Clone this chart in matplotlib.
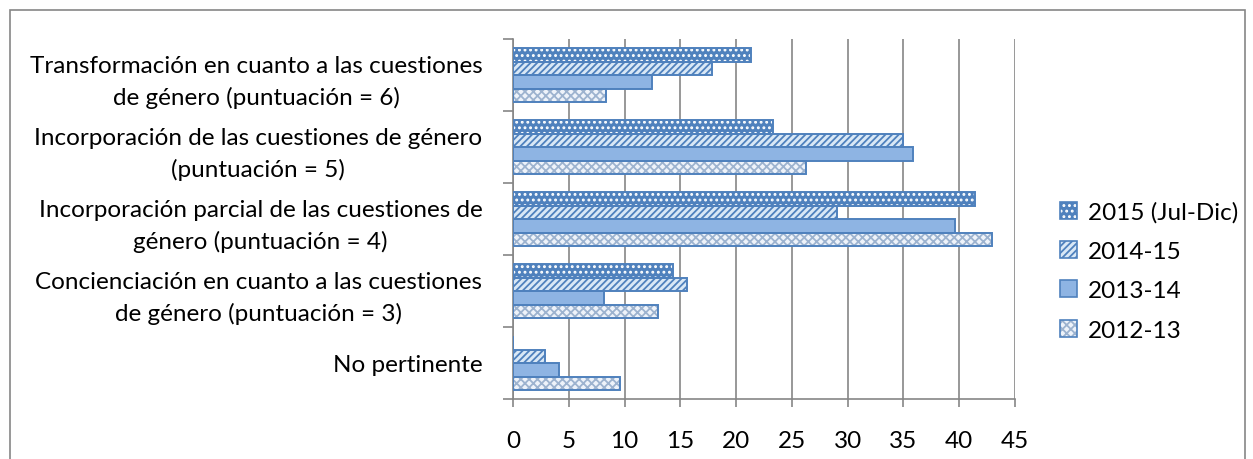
import numpy as np
import matplotlib.pyplot as plt
from matplotlib.patches import Patch, Rectangle
from matplotlib.legend_handler import HandlerTuple

# Data, bottom category first
categories = ["No pertinente",
              "Concienciación en cuanto a las cuestiones\nde género (puntuación = 3)",
              "Incorporación parcial de las cuestiones de\ngénero (puntuación = 4)",
              "Incorporación de las cuestiones de género\n(puntuación = 5)",
              "Transformación en cuanto a las cuestiones\nde género (puntuación = 6)"]
v_2012_13 = [9.6, 13.0, 42.9, 26.3, 8.3]
v_2013_14 = [4.1, 8.2, 39.6, 35.9, 12.5]
v_2014_15 = [2.9, 15.6, 29.0, 35.0, 17.8]
v_2015 = [0.0, 14.3, 41.4, 23.3, 21.3]
series_names = ["2012-13", "2013-14", "2014-15", "2015 (Jul-Dic)"]

blue = "#4F81BD"
grid_gray = "#868686"
styles = [
    dict(face="#EEF3FA", hcol="#9DB3CF", hatch="xxxx"),
    dict(face="#8EB4E3", hcol="#8EB4E3", hatch=None),
    dict(face="#D9E8F6", hcol=blue, hatch="/////"),
    dict(face=blue, hcol="white", hatch="..."),
]

plt.rcParams['font.family'] = ['Lato', 'DejaVu Sans']
plt.rcParams['hatch.linewidth'] = 1.3
fs = 17.5

fig = plt.figure(figsize=(12.53, 4.6), dpi=100)
ax = fig.add_axes([513 / 1253, 1 - 400 / 460, 502 / 1253, 360 / 460])

y = np.arange(len(categories))
h = 0.1875
offsets = [-1.5 * h, -0.5 * h, 0.5 * h, 1.5 * h]
handles = []
for vals, off, st in zip([v_2012_13, v_2013_14, v_2014_15, v_2015], offsets, styles):
    ax.barh(y + off, vals, height=h, color=st["face"], edgecolor=st["hcol"],
            hatch=st["hatch"], linewidth=0, zorder=3)
    ax.barh(y + off, vals, height=h, facecolor="none", edgecolor=blue,
            linewidth=1.4, zorder=4)
    handles.append((Patch(facecolor=st["face"], edgecolor=st["hcol"],
                          hatch=st["hatch"], linewidth=0),
                    Patch(facecolor="none", edgecolor=blue, linewidth=1.2)))

ax.set_xlim(0, 45)
ax.set_ylim(-0.5, len(categories) - 0.5)
ax.set_xticks(np.arange(0, 46, 5))
ax.tick_params(axis='x', labelsize=fs, colors=grid_gray, labelcolor='black',
               length=6, width=1.2, pad=16)
ax.set_yticks(np.arange(-0.5, len(categories), 1))
ax.set_yticklabels([])
ax.set_yticks(y, minor=True)
ax.set_yticklabels(categories, minor=True, fontsize=fs, ha='right',
                   multialignment='center', linespacing=1.5)
ax.tick_params(axis='y', which='major', length=7, width=1.2, colors=grid_gray)
ax.tick_params(axis='y', which='minor', length=0, pad=22)
ax.grid(axis='x', color=grid_gray, linewidth=1.2, zorder=0)
ax.set_axisbelow(True)
for s in ['top', 'right']:
    ax.spines[s].set_visible(False)
for s in ['left', 'bottom']:
    ax.spines[s].set_color(grid_gray)
    ax.spines[s].set_linewidth(1.2)

fig.legend(handles[::-1], series_names[::-1],
           handler_map={tuple: HandlerTuple(ndivide=1, pad=0)},
           loc='center left', bbox_to_anchor=(1038 / 1253, 1 - 272 / 460),
           frameon=False, fontsize=fs, handlelength=0.7, handleheight=0.7,
           handletextpad=0.45, labelspacing=0.75)

fig.patches.append(Rectangle((10, -20), 1235, 469, transform=None, fill=False,
                             edgecolor=grid_gray, linewidth=1.2))

fig.savefig("out.png", dpi=100)
